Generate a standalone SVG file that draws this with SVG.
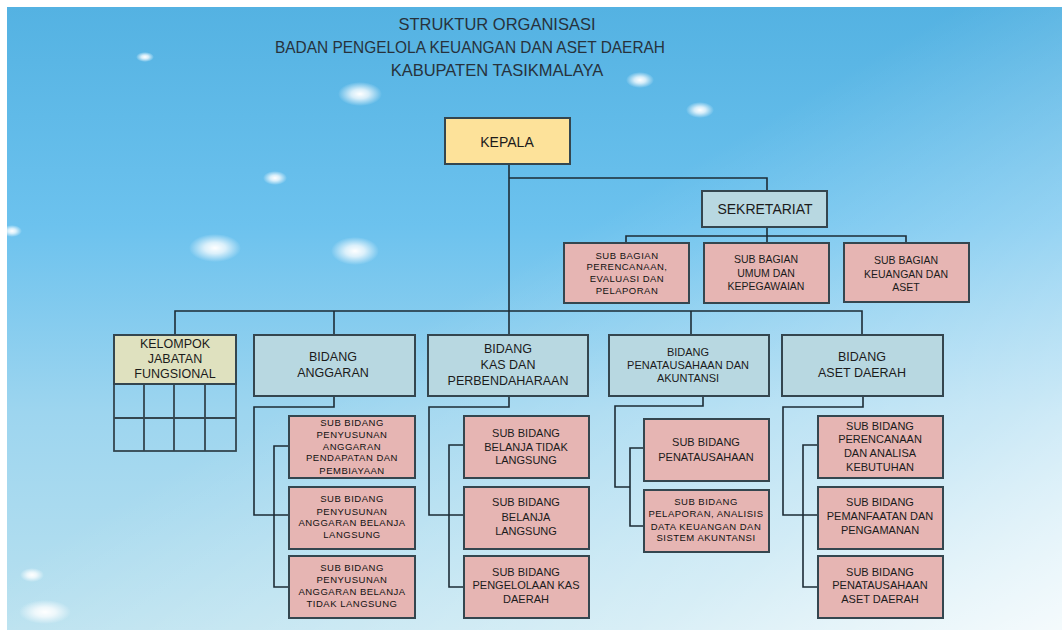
<svg xmlns="http://www.w3.org/2000/svg" width="1062" height="632" viewBox="0 0 1062 632">
<defs>
<linearGradient id="bg" x1="0" y1="0" x2="0" y2="1">
<stop offset="0" stop-color="#54b2e2"/>
<stop offset="0.35" stop-color="#6cc2ee"/>
<stop offset="0.65" stop-color="#9dd5ef"/>
<stop offset="1" stop-color="#b9e1ef"/>
</linearGradient>
<linearGradient id="sheen" x1="0" y1="0" x2="1" y2="1">
<stop offset="0.45" stop-color="#ffffff" stop-opacity="0"/>
<stop offset="0.8" stop-color="#ffffff" stop-opacity="0.45"/>
<stop offset="1" stop-color="#ffffff" stop-opacity="0.85"/>
</linearGradient>
<radialGradient id="glow">
<stop offset="0" stop-color="#ffffff" stop-opacity="1"/>
<stop offset="0.4" stop-color="#ffffff" stop-opacity="0.75"/>
<stop offset="1" stop-color="#ffffff" stop-opacity="0"/>
</radialGradient>
<style>
.box{stroke:#34464f;stroke-width:2}
.head{fill:#fde29a}
.bid{fill:#b8d8e1}
.sub{fill:#e6b5b3}
.kel{fill:#dfe1bf}
.grid{fill:none;stroke:#34464f;stroke-width:1.8}
.con{fill:none;stroke:#1d2c36;stroke-width:1.6}
text{font-family:"Liberation Sans",Arial,sans-serif;fill:#1b1b1b;text-anchor:middle}
.title{font-size:16.5px;fill:#27323c}
.t14{font-size:14px}
.t12{font-size:12.5px}
.t11{font-size:11px}
.t105{font-size:10.5px}
.sm{font-size:9.5px;letter-spacing:0.5px;fill:#111}
</style>
</defs>
<rect width="1062" height="632" fill="#ffffff"/>
<g id="background">
<rect x="7" y="7" width="1055" height="623" fill="url(#bg)"/>
<rect x="7" y="7" width="1055" height="623" fill="url(#sheen)"/>
<ellipse cx="145" cy="57" rx="9" ry="5" fill="url(#glow)"/>
<ellipse cx="360" cy="94" rx="22" ry="12" fill="url(#glow)"/>
<ellipse cx="275" cy="178" rx="12" ry="7" fill="url(#glow)"/>
<ellipse cx="215" cy="248" rx="26" ry="14" fill="url(#glow)"/>
<ellipse cx="355" cy="251" rx="24" ry="14" fill="url(#glow)"/>
<ellipse cx="12" cy="231" rx="10" ry="6" fill="url(#glow)"/>
<ellipse cx="640" cy="80" rx="14" ry="8" fill="url(#glow)"/>
<ellipse cx="700" cy="110" rx="14" ry="8" fill="url(#glow)"/>
<ellipse cx="45" cy="612" rx="26" ry="12" fill="url(#glow)"/>
<ellipse cx="32" cy="575" rx="12" ry="7" fill="url(#glow)"/>
</g>
<g id="title">
<text class="title" x="497" y="30">STRUKTUR ORGANISASI</text>
<text class="title" x="470" y="53" textLength="390" lengthAdjust="spacingAndGlyphs">BADAN PENGELOLA KEUANGAN DAN ASET DAERAH</text>
<text class="title" x="497" y="76">KABUPATEN TASIKMALAYA</text>
</g>
<g id="connectors">
<polyline class="con" points="509,164 509,335"/>
<polyline class="con" points="509,178 767,178 767,191"/>
<polyline class="con" points="767,227 767,243"/>
<polyline class="con" points="626,243 626,236 906,236 906,243"/>
<polyline class="con" points="175,335 175,311 862,311 862,335"/>
<polyline class="con" points="334,311 334,335"/>
<polyline class="con" points="691,311 691,335"/>
<polyline class="con" points="334,396 334,407 254,407 254,515 289,515"/>
<polyline class="con" points="289,446 274,446 274,587 289,587"/>
<polyline class="con" points="509,396 509,407 429,407 429,515 464,515"/>
<polyline class="con" points="464,445 449,445 449,587 464,587"/>
<polyline class="con" points="703,396 703,406 615,406 615,487 630,487"/>
<polyline class="con" points="644,448 630,448 630,526 644,526"/>
<polyline class="con" points="863,396 863,407 783,407 783,515 818,515"/>
<polyline class="con" points="818,445 803,445 803,587 818,587"/>
</g>
<g id="kepala">
<rect class="box head" x="445" y="118" width="125" height="46"/>
<text class="t14" x="507" y="147">KEPALA</text>
</g>
<g id="sekretariat">
<rect class="box bid" x="702" y="191" width="125" height="36"/>
<text class="t14" x="765" y="214">SEKRETARIAT</text>
</g>
<g id="subbag-perencanaan">
<rect class="box sub" x="564" y="243" width="125" height="60"/>
<text class="sm" x="627" y="259">SUB BAGIAN</text>
<text class="sm" x="627" y="270">PERENCANAAN,</text>
<text class="sm" x="627" y="282">EVALUASI DAN</text>
<text class="sm" x="627" y="294">PELAPORAN</text>
</g>
<g id="subbag-umum">
<rect class="box sub" x="704" y="243" width="125" height="60"/>
<text class="t105" x="766" y="263">SUB BAGIAN</text>
<text class="t105" x="766" y="277">UMUM DAN</text>
<text class="t105" x="766" y="290">KEPEGAWAIAN</text>
</g>
<g id="subbag-keuangan">
<rect class="box sub" x="844" y="243" width="125" height="59"/>
<text class="t105" x="906" y="264">SUB BAGIAN</text>
<text class="t105" x="906" y="278">KEUANGAN DAN</text>
<text class="t105" x="906" y="291">ASET</text>
</g>
<g id="kelompok">
<rect class="box kel" x="114" y="335" width="122" height="49"/>
<rect class="grid" x="114" y="384" width="122" height="67"/>
<path class="grid" d="M114,418H236M144,384V451M174,384V451M205,384V451"/>
<text class="t12" x="175" y="348">KELOMPOK</text>
<text class="t12" x="175" y="363">JABATAN</text>
<text class="t12" x="175" y="378">FUNGSIONAL</text>
</g>
<g id="bidang-anggaran">
<rect class="box bid" x="254" y="335" width="161" height="61"/>
<text class="t12" x="333" y="361">BIDANG</text>
<text class="t12" x="333" y="377">ANGGARAN</text>
</g>
<g id="bidang-kas">
<rect class="box bid" x="428" y="335" width="160" height="61"/>
<text class="t12" x="508" y="353">BIDANG</text>
<text class="t12" x="508" y="369">KAS DAN</text>
<text class="t12" x="508" y="385">PERBENDAHARAAN</text>
</g>
<g id="bidang-penatausahaan">
<rect class="box bid" x="609" y="335" width="160" height="61"/>
<text class="t11" x="688" y="356">BIDANG</text>
<text class="t11" x="688" y="369">PENATAUSAHAAN DAN</text>
<text class="t11" x="688" y="382">AKUNTANSI</text>
</g>
<g id="bidang-aset">
<rect class="box bid" x="782" y="335" width="161" height="61"/>
<text class="t12" x="862" y="361">BIDANG</text>
<text class="t12" x="862" y="377">ASET DAERAH</text>
</g>
<g id="sub-ang-1">
<rect class="box sub" x="289" y="416" width="126" height="62"/>
<text class="sm" x="352" y="426">SUB BIDANG</text>
<text class="sm" x="352" y="438">PENYUSUNAN</text>
<text class="sm" x="352" y="450">ANGGARAN</text>
<text class="sm" x="352" y="461">PENDAPATAN DAN</text>
<text class="sm" x="352" y="474">PEMBIAYAAN</text>
</g>
<g id="sub-ang-2">
<rect class="box sub" x="289" y="487" width="126" height="62"/>
<text class="sm" x="352" y="502">SUB BIDANG</text>
<text class="sm" x="352" y="515">PENYUSUNAN</text>
<text class="sm" x="352" y="526">ANGGARAN BELANJA</text>
<text class="sm" x="352" y="538">LANGSUNG</text>
</g>
<g id="sub-ang-3">
<rect class="box sub" x="289" y="556" width="126" height="62"/>
<text class="sm" x="352" y="571">SUB BIDANG</text>
<text class="sm" x="352" y="583">PENYUSUNAN</text>
<text class="sm" x="352" y="595">ANGGARAN BELANJA</text>
<text class="sm" x="352" y="607">TIDAK LANGSUNG</text>
</g>
<g id="sub-kas-1">
<rect class="box sub" x="464" y="416" width="125" height="62"/>
<text class="t11" x="526" y="437">SUB BIDANG</text>
<text class="t11" x="526" y="451">BELANJA TIDAK</text>
<text class="t11" x="526" y="464">LANGSUNG</text>
</g>
<g id="sub-kas-2">
<rect class="box sub" x="464" y="487" width="125" height="62"/>
<text class="t11" x="526" y="506">SUB BIDANG</text>
<text class="t11" x="526" y="521">BELANJA</text>
<text class="t11" x="526" y="535">LANGSUNG</text>
</g>
<g id="sub-kas-3">
<rect class="box sub" x="464" y="556" width="125" height="62"/>
<text class="t11" x="526" y="576">SUB BIDANG</text>
<text class="t11" x="526" y="589">PENGELOLAAN KAS</text>
<text class="t11" x="526" y="603">DAERAH</text>
</g>
<g id="sub-pen-1">
<rect class="box sub" x="644" y="419" width="125" height="62"/>
<text class="t11" x="706" y="446">SUB BIDANG</text>
<text class="t11" x="706" y="461">PENATAUSAHAAN</text>
</g>
<g id="sub-pen-2">
<rect class="box sub" x="644" y="490" width="125" height="62"/>
<text class="sm" x="706" y="505">SUB BIDANG</text>
<text class="sm" x="706" y="517">PELAPORAN, ANALISIS</text>
<text class="sm" x="706" y="530">DATA KEUANGAN DAN</text>
<text class="sm" x="706" y="541">SISTEM AKUNTANSI</text>
</g>
<g id="sub-aset-1">
<rect class="box sub" x="818" y="416" width="125" height="62"/>
<text class="t11" x="880" y="430">SUB BIDANG</text>
<text class="t11" x="880" y="443">PERENCANAAN</text>
<text class="t11" x="880" y="457">DAN ANALISA</text>
<text class="t11" x="880" y="471">KEBUTUHAN</text>
</g>
<g id="sub-aset-2">
<rect class="box sub" x="818" y="487" width="125" height="62"/>
<text class="t11" x="880" y="506">SUB BIDANG</text>
<text class="t11" x="880" y="520">PEMANFAATAN DAN</text>
<text class="t11" x="880" y="534">PENGAMANAN</text>
</g>
<g id="sub-aset-3">
<rect class="box sub" x="818" y="556" width="125" height="62"/>
<text class="t11" x="880" y="576">SUB BIDANG</text>
<text class="t11" x="880" y="589">PENATAUSAHAAN</text>
<text class="t11" x="880" y="603">ASET DAERAH</text>
</g>
</svg>
